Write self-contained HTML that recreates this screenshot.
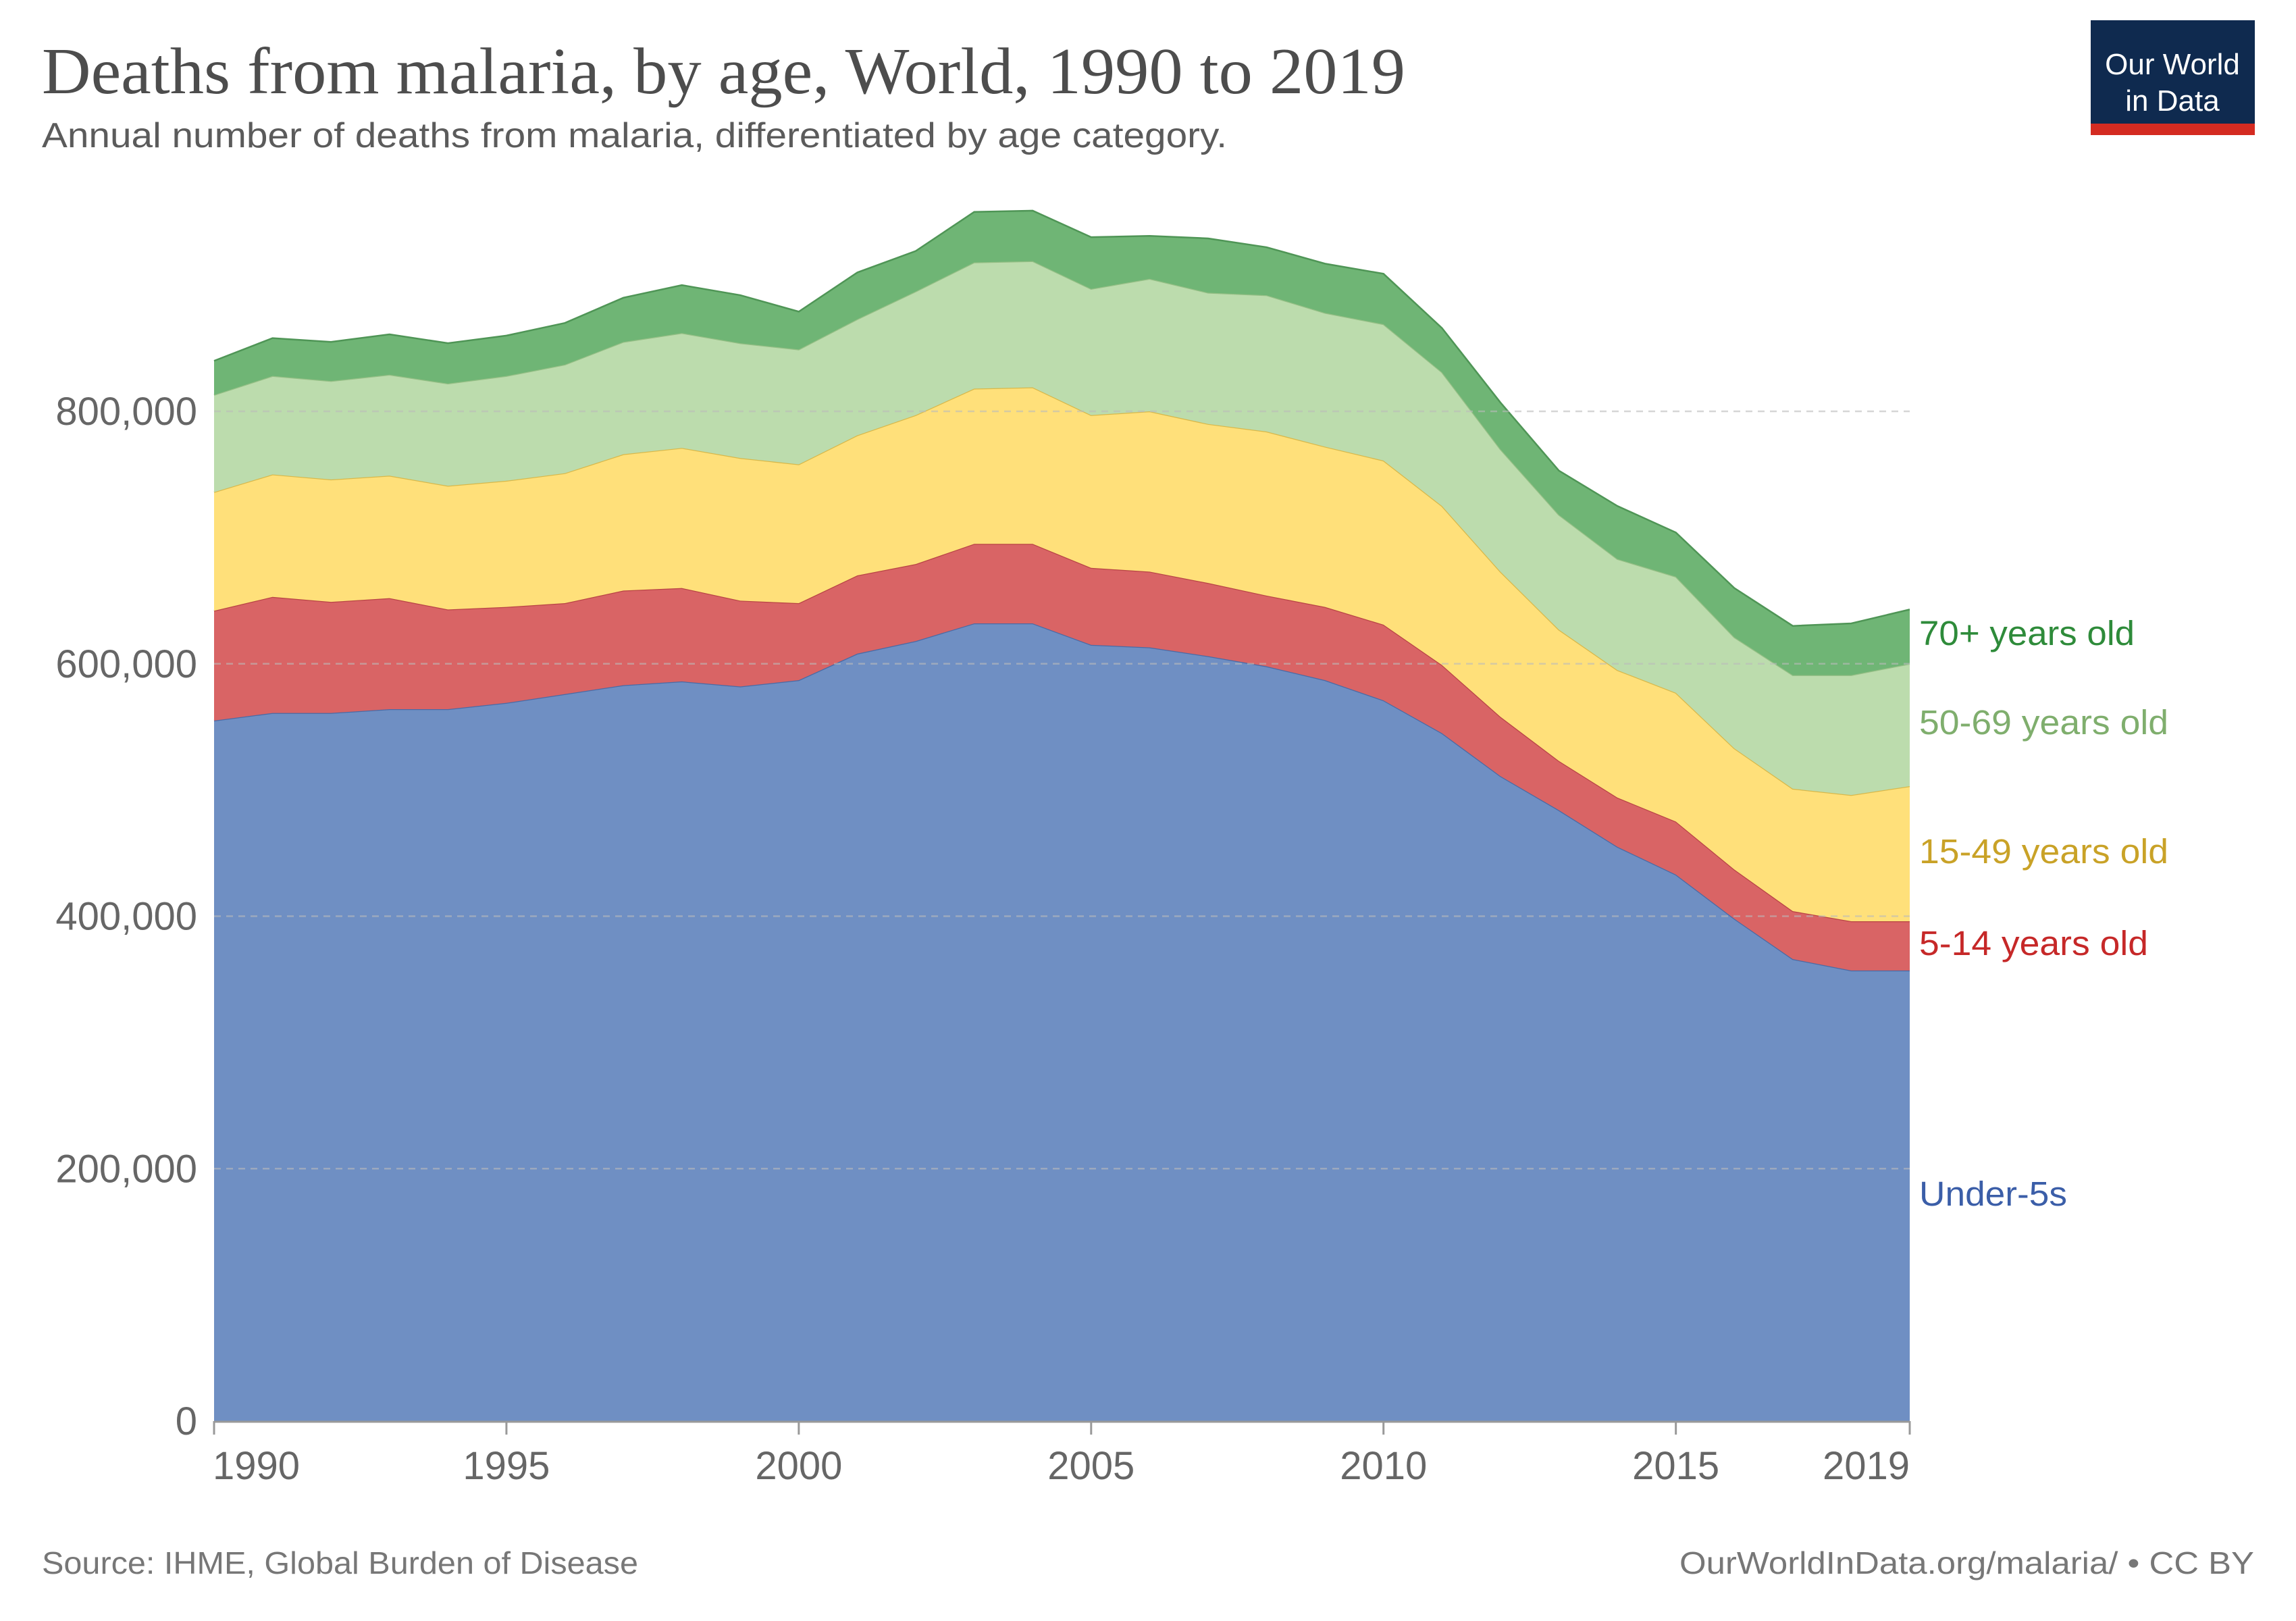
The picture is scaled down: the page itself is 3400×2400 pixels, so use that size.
<!DOCTYPE html>
<html><head><meta charset="utf-8"><style>
html,body{margin:0;padding:0;background:#fff}
svg{display:block}
</style></head><body>
<svg id="chart" width="3400" height="2400" viewBox="0 0 3400 2400" xmlns="http://www.w3.org/2000/svg">
<text x="62" y="138" textLength="2019" lengthAdjust="spacingAndGlyphs" font-family="Liberation Serif, serif" font-size="98" fill="#4d4d4d">Deaths from malaria, by age, World, 1990 to 2019</text>
<text x="62" y="218" textLength="1755" lengthAdjust="spacingAndGlyphs" font-family="Liberation Sans, sans-serif" font-size="52" fill="#5b5b5b">Annual number of deaths from malaria, differentiated by age category.</text>
<g>
<rect x="3096" y="30" width="243" height="170" fill="#0f2a4f"/>
<rect x="3096" y="183" width="243" height="17" fill="#d42b21"/>
<text x="3217" y="110" text-anchor="middle" font-family="Liberation Sans, sans-serif" font-size="44" fill="#fff">Our World</text>
<text x="3217" y="164" text-anchor="middle" font-family="Liberation Sans, sans-serif" font-size="44" fill="#fff">in Data</text>
</g>
<g id="plot"></g>
<text x="62" y="2330" textLength="883" lengthAdjust="spacingAndGlyphs" font-family="Liberation Sans, sans-serif" font-size="46" fill="#777">Source: IHME, Global Burden of Disease</text>
<text x="2487" y="2330" textLength="851" lengthAdjust="spacingAndGlyphs" font-family="Liberation Sans, sans-serif" font-size="46" fill="#777">OurWorldInData.org/malaria/ • CC BY</text>
</svg>
<script>
const years = [1990,1991,1992,1993,1994,1995,1996,1997,1998,1999,2000,2001,2002,2003,2004,2005,2006,2007,2008,2009,2010,2011,2012,2013,2014,2015,2016,2017,2018,2019];
const under5 = [555,561,561,564,564,569,576,583,586,582,587,608,618,632,632,615,613,606,598,587,571,545,511,484,455,433,398,366,357,357];
const age5to14 = [87,92,88,88,79,76,72,75,74,68,61,62,61,63,63,61,60,58,56,58,60,54,47,39,39,42,39,38,39,39];
const age15to49 = [94,97,97,97,98,100,103,108,111,113,110,111,118,123,124,121,127,126,130,127,130,126,115,104,101,102,96,97,100,107];
const age50to69 = [77,78,78,80,81,83,86,89,91,91,91,92,98,100,100,100,105,104,108,106,108,106,97,91,88,92,88,90,95,97];
const age70plus = [27,30,31,32,32,32,33,35,38,38,30,37,32,40,40,41,34,43,38,39,40,35,37,35,42,35,39,39,41,43];
const yTicks = [0,200000,400000,600000,800000];
const yTickLabels = ["0","200,000","400,000","600,000","800,000"];
const xTicks = [1990,1995,2000,2005,2010,2015,2019];

const NS="http://www.w3.org/2000/svg";
const L=317,R=2828,B=2104,T=609;
const x=yr=>L+(yr-1990)/(2019-1990)*(R-L);
const y=v=>B-v/800000*(B-T);
const plot=document.getElementById('plot');
function mk(tag,attrs){const e=document.createElementNS(NS,tag);for(const k in attrs)e.setAttribute(k,attrs[k]);return e;}

const series=[
 {name:'under-5s',vals:under5,fill:'#6f8fc3',stroke:'#4a6aa5',label:'Under-5s',lc:'#3b5ea8',len:219},
 {name:'5-14',vals:age5to14,fill:'#d96465',stroke:'#b84445',label:'5-14 years old',lc:'#c62828',len:339},
 {name:'15-49',vals:age15to49,fill:'#ffe07a',stroke:'#d8b84a',label:'15-49 years old',lc:'#c9a227',len:369},
 {name:'50-69',vals:age50to69,fill:'#bcdcad',stroke:'#95bf85',label:'50-69 years old',lc:'#7fae6d',len:369},
 {name:'70plus',vals:age70plus,fill:'#6fb575',stroke:'#4f9556',label:'70+ years old',lc:'#2e8b3a',len:319}
];
let base=years.map(()=>0);
const tops=[];
series.forEach(s=>{
  const top=base.map((b,i)=>b+s.vals[i]*1000);
  let d='M'+years.map((yr,i)=>x(yr)+','+y(top[i])).join('L');
  for(let i=years.length-1;i>=0;i--) d+='L'+x(years[i])+','+y(base[i]);
  d+='Z';
  const p=mk('path',{d:d,fill:s.fill,stroke:'none'});
  
  
  plot.appendChild(p);
  const ln=mk('polyline',{points:years.map((yr,i)=>x(yr)+','+y(top[i])).join(' '),fill:'none',stroke:s.stroke,'stroke-width':2.5});
  
  
  plot.appendChild(ln);
  tops.push({s:s,base:base.slice(),top:top});
  base=top;
});
yTicks.forEach((v,i)=>{
  if(v>0){
    const g=mk('line',{x1:L,x2:R,y1:y(v),y2:y(v),stroke:'#bbb','stroke-opacity':0.6,'stroke-width':2.5,'stroke-dasharray':'10,8'});
    
    
    plot.appendChild(g);
  }
  const t=mk('text',{x:292,y:y(v)+20,'text-anchor':'end','font-family':'Liberation Sans, sans-serif','font-size':58,fill:'#666'});
  t.textContent=yTickLabels[i];
  
  
  plot.appendChild(t);
});
const ax=mk('line',{x1:L,x2:R,y1:B+1,y2:B+1,stroke:'#999','stroke-width':3});


plot.appendChild(ax);
xTicks.forEach(yr=>{
  const tk=mk('line',{x1:x(yr),x2:x(yr),y1:B,y2:B+20,stroke:'#999','stroke-width':3});
  
  
  plot.appendChild(tk);
  const anchor=yr===2019?'end':(yr===1990?'start':'middle');
  const t=mk('text',{x:x(yr)+(yr===1990?-2:0),y:2190,'text-anchor':anchor,'font-family':'Liberation Sans, sans-serif','font-size':58,fill:'#666'});
  t.textContent=String(yr);
  
  
  plot.appendChild(t);
});
const labelYs=[1767,1396,1260,1069,937];
tops.forEach((o,i)=>{
  const t=mk('text',{x:2842,y:labelYs[i]+18,textLength:o.s.len,lengthAdjust:'spacingAndGlyphs','font-family':'Liberation Sans, sans-serif','font-size':51,fill:o.s.lc});
  t.textContent=o.s.label;
  
  
  plot.appendChild(t);
});
</script>
</body></html>
